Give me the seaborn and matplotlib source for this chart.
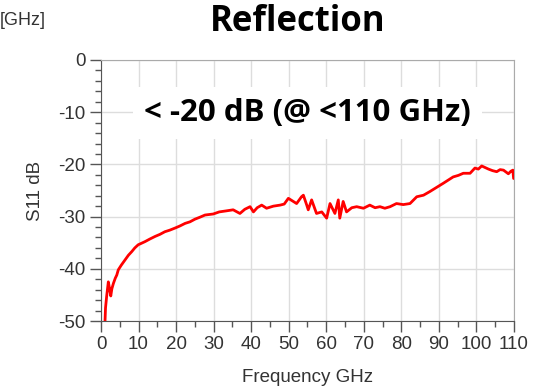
import pandas as pd
import matplotlib.pyplot as plt
import seaborn as sns
from matplotlib.ticker import MultipleLocator

frecuencia = [1.07, 1.2, 1.5, 1.95, 2.2, 2.6, 2.9, 3.3, 3.8, 4.2, 4.6, 5.4, 6.4, 7.3, 8.2, 9.0,
              9.9, 10.8, 11.7, 13.0, 14.4, 15.7, 17.0, 18.3, 19.7, 21.0, 22.4, 23.7, 25.0,
              26.4, 27.7, 29.9, 31.5, 33.4, 35.2, 37.0, 38.3, 39.7, 40.6, 41.6, 42.8, 44.1,
              45.9, 47.7, 48.8, 49.9, 51.0, 52.1, 53.4, 53.9, 54.8, 55.2, 56.1, 57.4,
              58.8, 60.1, 61.0, 62.3, 63.2, 63.6, 64.5, 65.4, 66.8, 68.1, 69.9, 71.6,
              73.0, 74.3, 75.6, 77.0, 78.7, 80.5, 82.3, 84.1, 85.9, 87.6, 89.4, 91.2,
              92.5, 93.8, 95.2, 96.5, 98.3, 99.6, 100.5, 101.4, 102.3, 103.2, 104.3,
              105.4, 106.3, 107.2, 108.5, 109.2, 109.7, 109.9]
s11_db = [-50.0, -47.5, -45.3, -42.5, -43.5, -45.2, -43.8, -42.8, -41.8, -41.2, -40.2, -39.3,
          -38.3, -37.4, -36.7, -36.0, -35.4, -35.1, -34.8, -34.3, -33.8, -33.4, -32.9,
          -32.6, -32.2, -31.8, -31.3, -31.0, -30.5, -30.1, -29.7, -29.5, -29.1, -28.9,
          -28.7, -29.4, -28.6, -28.1, -29.1, -28.3, -27.8, -28.4, -28.0, -27.8, -27.6,
          -26.5, -27.0, -27.5, -26.2, -25.9, -27.8, -28.7, -26.8, -29.4, -29.1, -30.3,
          -27.5, -29.4, -26.8, -30.3, -27.1, -29.1, -28.3, -28.1, -28.4, -27.8, -28.3,
          -28.1, -28.4, -28.1, -27.5, -27.7, -27.5, -26.2, -25.9, -25.2, -24.4, -23.6,
          -23.0, -22.4, -22.1, -21.7, -21.7, -20.7, -20.9, -20.3, -20.6, -20.9, -21.2,
          -21.4, -21.0, -21.1, -21.8, -21.3, -21.1, -22.7]

df = pd.DataFrame({"Frecuencia": frecuencia, "S11": s11_db})

sns.set_style("white")
plt.rcParams['font.family'] = ['Liberation Sans', 'DejaVu Sans']
plt.rcParams['axes.unicode_minus'] = False

fig = plt.figure(figsize=(5.39, 3.9), dpi=100)
ax = fig.add_axes([0.1874, 0.1769, 0.7662, 0.6693])

sns.lineplot(data=df, x="Frecuencia", y="S11", color="#ff0000", linewidth=2, ax=ax, zorder=3)

ax.set_xlim(0, 110)
ax.set_ylim(-50, 0)
ax.xaxis.set_major_locator(MultipleLocator(10))
ax.xaxis.set_minor_locator(MultipleLocator(5))
ax.yaxis.set_major_locator(MultipleLocator(10))
ax.yaxis.set_minor_locator(MultipleLocator(2))
ax.grid(True, which="major", color="#dddddd", linewidth=1)

for lado in ["left", "bottom"]:
    ax.spines[lado].set_color("#555555")
for lado in ["top", "right"]:
    ax.spines[lado].set_color("#aaaaaa")

ax.tick_params(which="major", direction="out", length=8, width=1, color="#555555",
               labelsize=13.5, labelcolor="#333333", left=True, bottom=True, pad=3)
ax.tick_params(which="minor", direction="out", length=4, width=1, color="#555555",
               left=True, bottom=True)

ax.set_xlabel("Frequency GHz", fontsize=13.5, color="#333333", labelpad=11)
ax.set_ylabel("S11 dB", fontsize=13.5, color="#333333", labelpad=10)

# Texto de anotacion con fondo blanco
ax.text(0.5, 0.797, "< -20 dB (@ <110 GHz)", transform=ax.transAxes, ha="center", va="center",
        fontsize=22.5, fontweight="bold", family=["Open Sans", "DejaVu Sans"], color="black",
        bbox=dict(facecolor="white", edgecolor="none", pad=8), zorder=4)

fig.text(0.553, 0.944, "Reflection", ha="center", va="center", fontsize=25,
         fontweight="bold", family=["Open Sans", "DejaVu Sans"], color="black")
fig.text(0.0, 0.947, "[GHz]", ha="left", va="center", fontsize=13, color="#333333")

plt.savefig("out.png", dpi=100)
